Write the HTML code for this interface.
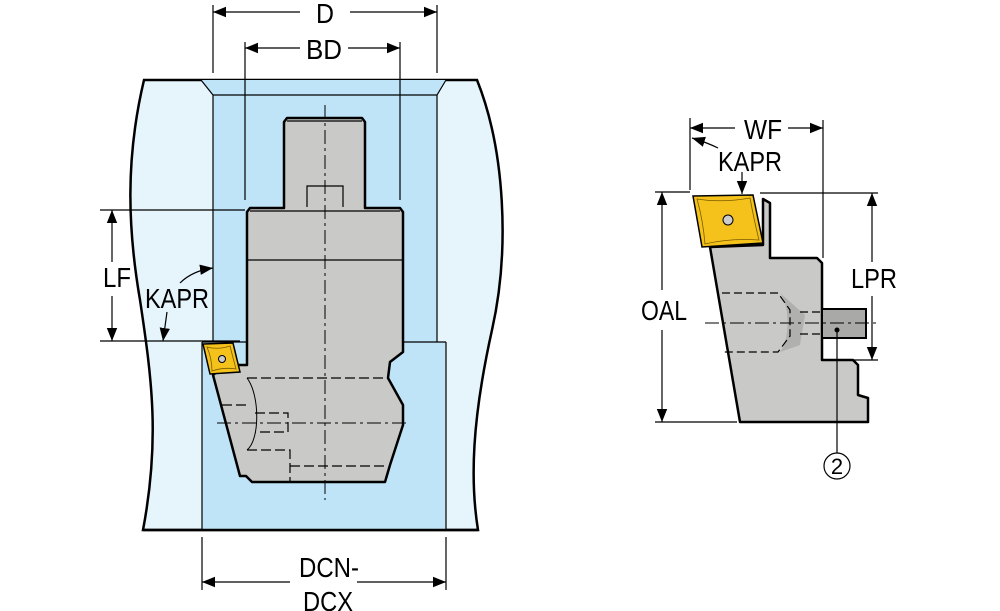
<!DOCTYPE html>
<html><head><meta charset="utf-8"><style>html,body{margin:0;padding:0;background:#fff}svg{display:block}</style></head><body>
<svg width="1000" height="611" viewBox="0 0 1000 611" xmlns="http://www.w3.org/2000/svg" font-family="Liberation Sans, sans-serif">
<defs>
<marker id="a" viewBox="0 0 10 10" refX="10" refY="5" markerWidth="13" markerHeight="13" markerUnits="userSpaceOnUse" orient="auto-start-reverse"><path d="M0,1 L10,5 L0,9z" fill="#000"/></marker>
</defs>
<!-- workpiece -->
<path d="M144,80 L477,80 C505,150 510,250 492,330 C472,420 470,480 478,530 L143,530 C160,440 152,380 140,300 C128,230 125,160 144,80z" fill="#e6f4fc" stroke="#000" stroke-width="2.5"/>
<path d="M201,80 L213,95 L213,342 L202,342 L202,530 L446,530 L446,342 L437,342 L437,95 L446,80z" fill="#bfe3f7"/>
<path d="M201,80 L213,95 L437,95 L446,80 M213,95 L213,342 M437,95 L437,342 M202,342 L202,530 M446,342 L446,530 M202,342 L446,342" fill="none" stroke="#000" stroke-width="1.2"/>
<path d="M143,530 L478,530" stroke="#000" stroke-width="2.5"/>
<!-- tool -->
<path d="M287,118 L362,118 L365,122 L365,208 L400,208 L403,212 L403,352 L390,362 L388,378 L403,405 L403,425 L390,465 L385,482 L252,482 L246,476 L240,476 L213,375 L225,365 L247,365 L247,212 L250,208 L284,208 L284,122z" fill="#c9cac8" stroke="#000" stroke-width="2.5" stroke-linejoin="round"/>
<path d="M247,260 L403,260 M307,207 L307,186 L343,186 L343,207 M287,121 L362,121 M250,211 L400,211" fill="none" stroke="#000" stroke-width="1.2"/>
<g fill="none" stroke="#000" stroke-width="1.2" stroke-dasharray="10,4">
<path d="M247,378 L388,378 M222,405 L248,405 M247,450 L290,450 L290,482 M290,466 L385,466"/>
<path d="M255,413 L288,413 L288,432 L255,432"/>
</g>
<path d="M247,378 C260,395 260,440 247,450" fill="none" stroke="#000" stroke-width="1"/>
<path d="M325,105 L325,500 M217,423 L410,423" fill="none" stroke="#000" stroke-width="1" stroke-dasharray="14,4,3,4"/>
<!-- insert -->
<path d="M203,344 L233,343 L240,372 L210,374z" fill="#f4c21a" stroke="#000" stroke-width="1.5"/>
<path d="M207,347 Q218,350 230,346 Q233,358 236,369 Q224,367 212,371 Q212,359 207,347z" fill="none" stroke="#7a5a00" stroke-width="0.8"/>
<circle cx="222" cy="359" r="3.5" fill="#ccc" stroke="#000"/>
<!-- dims left -->
<g stroke="#000" stroke-width="1.2" fill="none">
<path d="M213,5 L213,73 M437,5 L437,73 M245,42 L245,200 M400,42 L400,200"/>
<path d="M213,12 L300,12" marker-start="url(#a)"/><path d="M350,12 L437,12" marker-end="url(#a)"/>
<path d="M245,48 L300,48" marker-start="url(#a)"/><path d="M348,48 L400,48" marker-end="url(#a)"/>
<path d="M100,210 L245,210 M100,341 L240,341"/>
<path d="M112,210 L112,262" marker-start="url(#a)"/><path d="M112,296 L112,341" marker-end="url(#a)"/>
<path d="M180,283 C188,275 198,270 213,268" marker-end="url(#a)"/>
<path d="M167,312 L163,341" marker-end="url(#a)"/>
<path d="M202,537 L202,590 M446,537 L446,590"/>
<path d="M202,582 L290,582" marker-start="url(#a)"/><path d="M357,582 L446,582" marker-end="url(#a)"/>
</g>
<g font-size="28" fill="#000" text-anchor="middle">
<text x="325" y="23" textLength="18" lengthAdjust="spacingAndGlyphs">D</text>
<text x="324" y="59" textLength="36" lengthAdjust="spacingAndGlyphs">BD</text>
<text x="117" y="287" textLength="28" lengthAdjust="spacingAndGlyphs">LF</text>
<text x="177" y="308" textLength="64" lengthAdjust="spacingAndGlyphs">KAPR</text>
<text x="329" y="577" textLength="60" lengthAdjust="spacingAndGlyphs">DCN-</text>
<text x="328" y="611" textLength="50" lengthAdjust="spacingAndGlyphs">DCX</text>
</g>
<!-- right figure -->
<path d="M710,247 L763,245 L763,199 L770,203 L770,258 L817,258 L822,263 L822,360 L853,360 L858,365 L858,395 L868,398 L868,422 L740,422z" fill="#c9cac8" stroke="#000" stroke-width="2.5" stroke-linejoin="round"/>
<path d="M780,293 C790,305 790,340 780,352 L800,345 L805,315z" fill="#b0b1af"/>
<rect x="822" y="309" width="44" height="29" fill="#a9aaa8" stroke="#000" stroke-width="2"/>
<g fill="none" stroke="#000" stroke-width="1.2" stroke-dasharray="8,4">
<path d="M722,293 L778,293 L790,310 L790,336 L778,352 L722,352"/>
<path d="M800,312 L822,312 M800,334 L822,334"/>
</g>
<path d="M705,323 L878,323" stroke="#000" stroke-width="1" stroke-dasharray="14,4,3,4"/>
<path d="M693,196 L753,195 L763,243 L702,247z" fill="#f4c21a" stroke="#000" stroke-width="1.5"/>
<path d="M697,199 Q722,203 750,198 Q754,220 759,240 Q730,238 705,244 Q703,220 697,199z" fill="none" stroke="#7a5a00" stroke-width="0.8"/>
<circle cx="728" cy="220" r="5" fill="#ccc" stroke="#000"/>
<g stroke="#000" stroke-width="1.2" fill="none">
<path d="M690,118 L690,190 M823,120 L823,258"/>
<path d="M690,128 L735,128" marker-start="url(#a)"/><path d="M788,128 L823,128" marker-end="url(#a)"/>
<path d="M718,148 C712,145 705,142 692,138" marker-end="url(#a)"/>
<path d="M742,172 L742,194" marker-end="url(#a)"/>
<path d="M655,192 L690,192 M655,422 L737,422 M760,193 L878,193 M853,360 L878,360"/>
<path d="M662,192 L662,290" marker-start="url(#a)"/><path d="M662,330 L662,422" marker-end="url(#a)"/>
<path d="M872,193 L872,262" marker-start="url(#a)"/><path d="M872,296 L872,360" marker-end="url(#a)"/>
<path d="M837,330 L837,453"/>
<circle cx="837" cy="466" r="13"/>
</g>
<circle cx="837" cy="330" r="2.5" fill="#000"/>
<g font-size="28" fill="#000" text-anchor="middle">
<text x="763" y="139" textLength="38" lengthAdjust="spacingAndGlyphs">WF</text>
<text x="750" y="171" textLength="64" lengthAdjust="spacingAndGlyphs">KAPR</text>
<text x="664" y="320" textLength="46" lengthAdjust="spacingAndGlyphs">OAL</text>
<text x="874" y="288" textLength="46" lengthAdjust="spacingAndGlyphs">LPR</text>
<text x="837" y="474" font-size="22">2</text>
</g>
</svg>
</body></html>
